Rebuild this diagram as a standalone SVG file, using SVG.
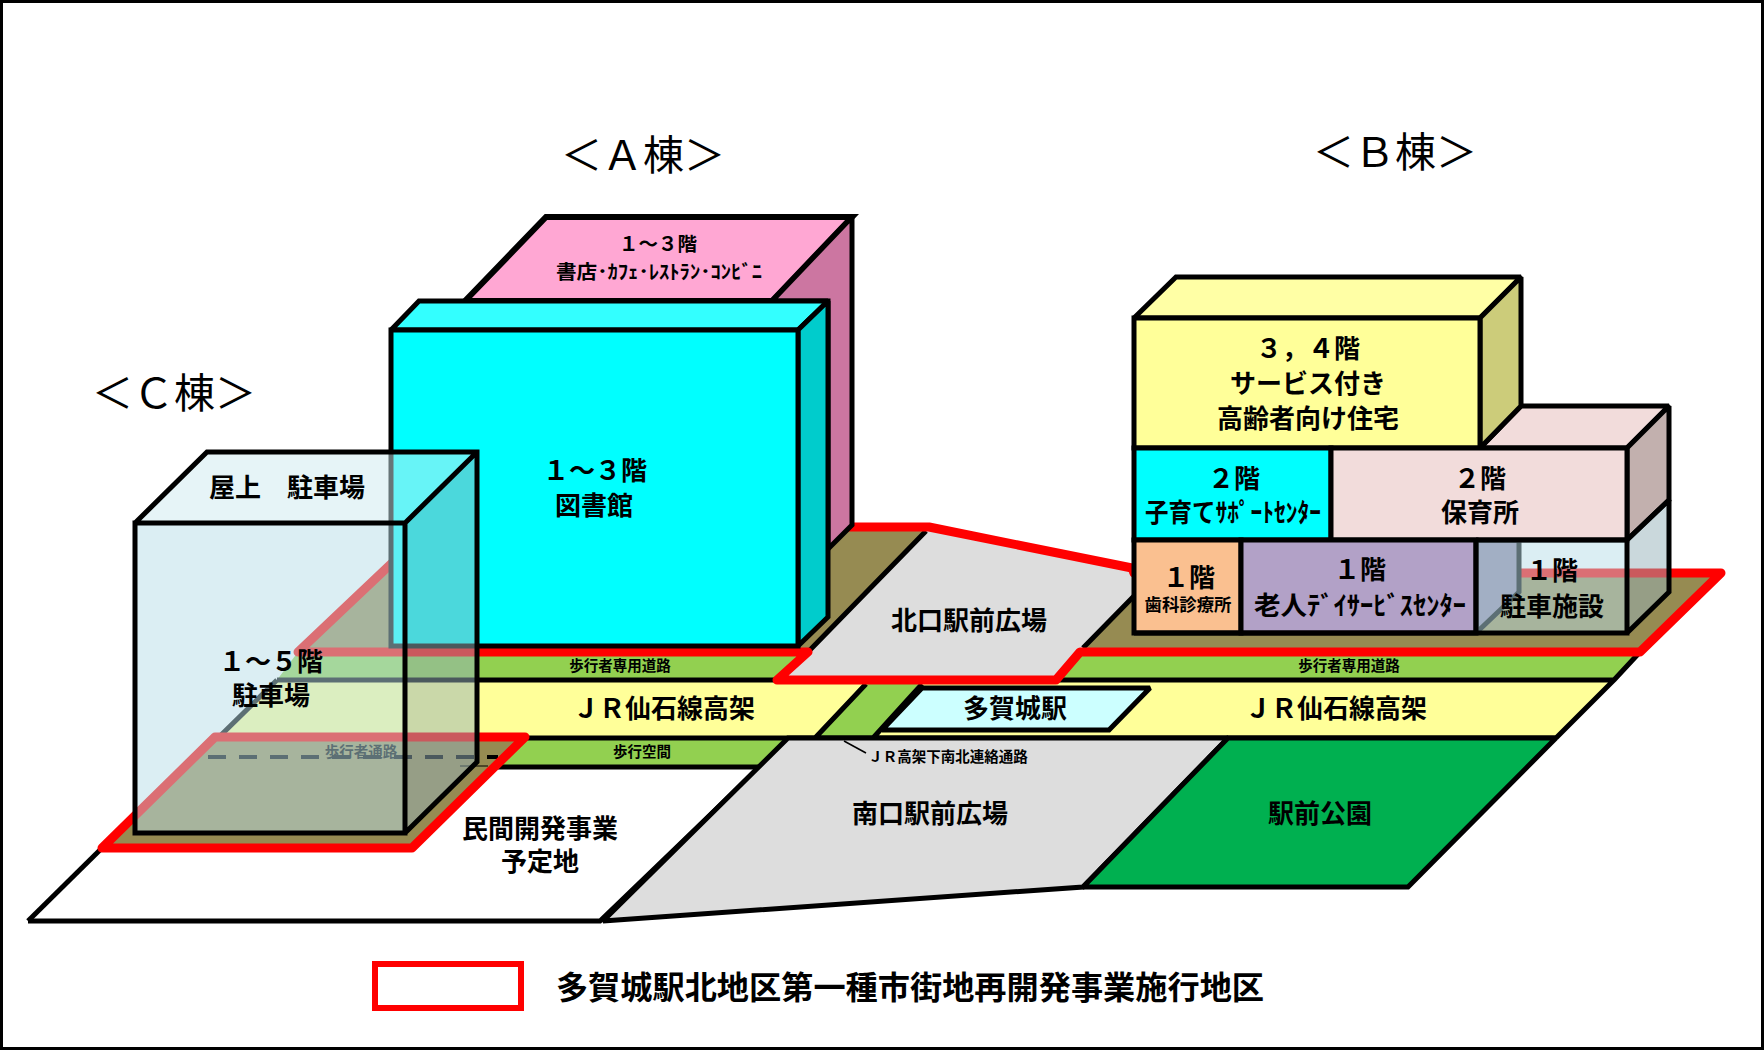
<svg xmlns="http://www.w3.org/2000/svg" width="1764" height="1050" viewBox="0 0 1764 1050">
<style>
.k{stroke:#000;stroke-width:5;stroke-linejoin:miter;stroke-miterlimit:1.5;fill:none}
.s{stroke:#000;stroke-width:5;stroke-linejoin:miter;stroke-miterlimit:1.5}
.r{stroke:#f00;stroke-width:9;stroke-linejoin:round;fill:none}
text{font-family:"Noto Sans CJK JP","Noto Sans",sans-serif;text-anchor:middle;dominant-baseline:central;fill:#000;font-weight:700}
.t40{font-size:41px;font-weight:400}
.t26{font-size:26px}
.t20{font-size:19.5px}
.t14{font-size:14.5px}
</style>
<rect x="1.5" y="1.5" width="1761" height="1047" fill="#fff" stroke="#000" stroke-width="3"/>

<g id="ground-bands">
<path class="s" d="M28 921H600L762 765" fill="#fff"/>
<path class="k" d="M28 921L102 848"/>
<path d="M298 652H808L777 680H277Z" fill="#92d050"/>
<path d="M277 680H866L815 738H218Z" fill="#ffff99"/>
<path d="M866 680H922L873 738H815Z" fill="#92d050"/>
<path d="M922 680H1614L1556 738H873Z" fill="#ffff99"/>
<path d="M1080 652H1640L1614 680H1056Z" fill="#92d050"/>
<path d="M470 738H788L759 767H470Z" fill="#92d050"/>
<path class="k" d="M277 680H790M1056 680H1614L1556 738M277 680L218 738H1556M866 684L815 738M922 684L873 738M1640 652L1614 680M498 767H759"/>
</g>

<g id="south-plaza"><path class="s" d="M788 738H1228L1083 887L603 921Z" fill="#dddddd"/></g>
<g id="park"><path class="s" d="M1228 738H1556L1408 887H1083Z" fill="#00b050"/></g>
<g id="station"><path class="s" d="M922 688H1150L1109 730H882Z" fill="#ccffff"/></g>

<g id="site-north">
<path d="M430 527H929L1132 568L1134 573H1721L1640 652H1080L1056 680H777L808 652H298Z" fill="#968b52"/>
<path d="M926 529L1134 568V596L1056 680H780Z" fill="#dddddd"/>
<path class="k" d="M926 531L808 652M1083 648L1134 596"/>
<path class="r" d="M430 527H929L1132 568L1134 573H1721L1640 652H1080L1056 680H777L808 652H298Z"/>
</g>
<g id="site-c">
<path d="M102 848H412L525 737H215Z" fill="#968b52"/>
<path d="M208 757H498" fill="none" stroke="#000" stroke-width="4" stroke-dasharray="18 13"/>
<path d="M460 766H488" stroke="#000" stroke-width="1"/>
<text class="t14" x="361" y="750">歩行者通路</text>
<path class="r" d="M102 848H412L525 737H215Z"/>
</g>

<g id="building-a">
<path d="M546 217H852L772 301H465Z" fill="#ffa7d3" stroke="#000" stroke-width="6"/>
<path class="s" d="M772 301L852 217V525L828 549V301Z" fill="#cc76a1"/>
<path class="s" d="M391 330L419 301H828L798 330Z" fill="#33ffff"/>
<path class="s" d="M798 330L828 301V617L798 646Z" fill="#00cccc"/>
<rect class="s" x="391" y="330" width="407" height="316" fill="#00ffff"/>
<text class="t20" x="658" y="242">１～３階</text>
<text class="t20" x="659" y="270" textLength="206" lengthAdjust="spacingAndGlyphs">書店･ｶﾌｪ･ﾚｽﾄﾗﾝ･ｺﾝﾋﾞﾆ</text>
<text class="t26" x="595" y="468">１～３階</text>
<text class="t26" x="594" y="503">図書館</text>
</g>

<g id="building-b">
<path class="s" d="M1476 540H1519V592L1476 633Z" fill="#8c80a0"/>
<path class="s" d="M1480 448L1521 406H1669L1627 448Z" fill="#f2dcdb"/>
<path class="s" d="M1627 448L1669 406V500L1627 540Z" fill="#c2b0ae"/>
<path class="s" d="M1134 318L1176 277H1521L1480 318Z" fill="#ffffa5"/>
<path class="s" d="M1480 318L1521 277V406L1480 448Z" fill="#cccc7a"/>
<rect class="s" x="1134" y="318" width="346" height="130" fill="#ffff99"/>
<rect class="s" x="1134" y="448" width="197" height="92" fill="#00ffff"/>
<rect class="s" x="1331" y="448" width="296" height="92" fill="#f2dcdb"/>
<rect class="s" x="1134" y="540" width="107" height="93" fill="#fac090"/>
<rect class="s" x="1241" y="540" width="235" height="93" fill="#b2a1c7"/>
<path d="M1476 540H1627V633H1476Z" fill="#b7dde8" fill-opacity=".5"/>
<path d="M1627 540L1669 500V592L1627 633Z" fill="#96b1b9" fill-opacity=".5"/>
<path class="k" d="M1476 540H1627V633H1134M1627 540L1669 500V592L1627 633M1476 540V633"/>
<text class="t26" x="1308" y="346">３，４階</text>
<text class="t26" x="1308" y="381">サービス付き</text>
<text class="t26" x="1308" y="416">高齢者向け住宅</text>
<text class="t26" x="1234" y="476">２階</text>
<text class="t26" x="1233" y="510" textLength="176" lengthAdjust="spacingAndGlyphs">子育てｻﾎﾟｰﾄｾﾝﾀｰ</text>
<text class="t26" x="1480" y="476">２階</text>
<text class="t26" x="1480" y="510">保育所</text>
<text class="t26" x="1189" y="575">１階</text>
<text x="1188" y="603" font-size="17.4">歯科診療所</text>
<text class="t26" x="1360" y="567">１階</text>
<text class="t26" x="1360" y="603" textLength="212" lengthAdjust="spacingAndGlyphs">老人ﾃﾞｲｻｰﾋﾞｽｾﾝﾀｰ</text>
<text class="t26" x="1552" y="568">１階</text>
<text class="t26" x="1552" y="604">駐車施設</text>
</g>

<g id="building-c">
<path d="M135 523L207 452H477L405 523Z" fill="#cee9f0" fill-opacity=".5"/>
<path d="M405 523L477 452V762L405 833Z" fill="#96b1b9" fill-opacity=".5"/>
<rect x="135" y="523" width="270" height="310" fill="#b7dde8" fill-opacity=".5"/>
<path class="k" d="M135 523L207 452H477V762L405 833M405 523L477 452M135 523H405V833H135Z"/>
<text class="t26" x="287" y="485">屋上　駐車場</text>
<text class="t26" x="271" y="659">１～５階</text>
<text class="t26" x="271" y="693">駐車場</text>
</g>

<g id="connectors"><path d="M844 741L866 753" stroke="#000" stroke-width="1.5" fill="none"/></g>

<g id="labels">
<text class="t40" x="643" y="152">＜Ａ棟＞</text>
<text class="t40" x="1395" y="149">＜Ｂ棟＞</text>
<text class="t40" x="174" y="390">＜Ｃ棟＞</text>
<text class="t26" x="969" y="618">北口駅前広場</text>
<text class="t26" x="930" y="811">南口駅前広場</text>
<text class="t26" x="1015" y="706">多賀城駅</text>
<text class="t26" x="664" y="706">ＪＲ仙石線高架</text>
<text class="t26" x="1336" y="706">ＪＲ仙石線高架</text>
<text class="t14" x="620" y="664">歩行者専用道路</text>
<text class="t14" x="1349" y="664">歩行者専用道路</text>
<text class="t14" x="642" y="750">歩行空間</text>
<text class="t14" x="948" y="755">ＪＲ高架下南北連絡通路</text>
<text class="t26" x="540" y="826">民間開発事業</text>
<text class="t26" x="540" y="859">予定地</text>
<text class="t26" x="1320" y="811">駅前公園</text>
</g>

<g id="legend">
<rect x="375" y="964" width="146" height="44" fill="#fff" stroke="#f00" stroke-width="6"/>
<text x="910" y="985" font-size="32.2">多賀城駅北地区第一種市街地再開発事業施行地区</text>
</g>
</svg>
